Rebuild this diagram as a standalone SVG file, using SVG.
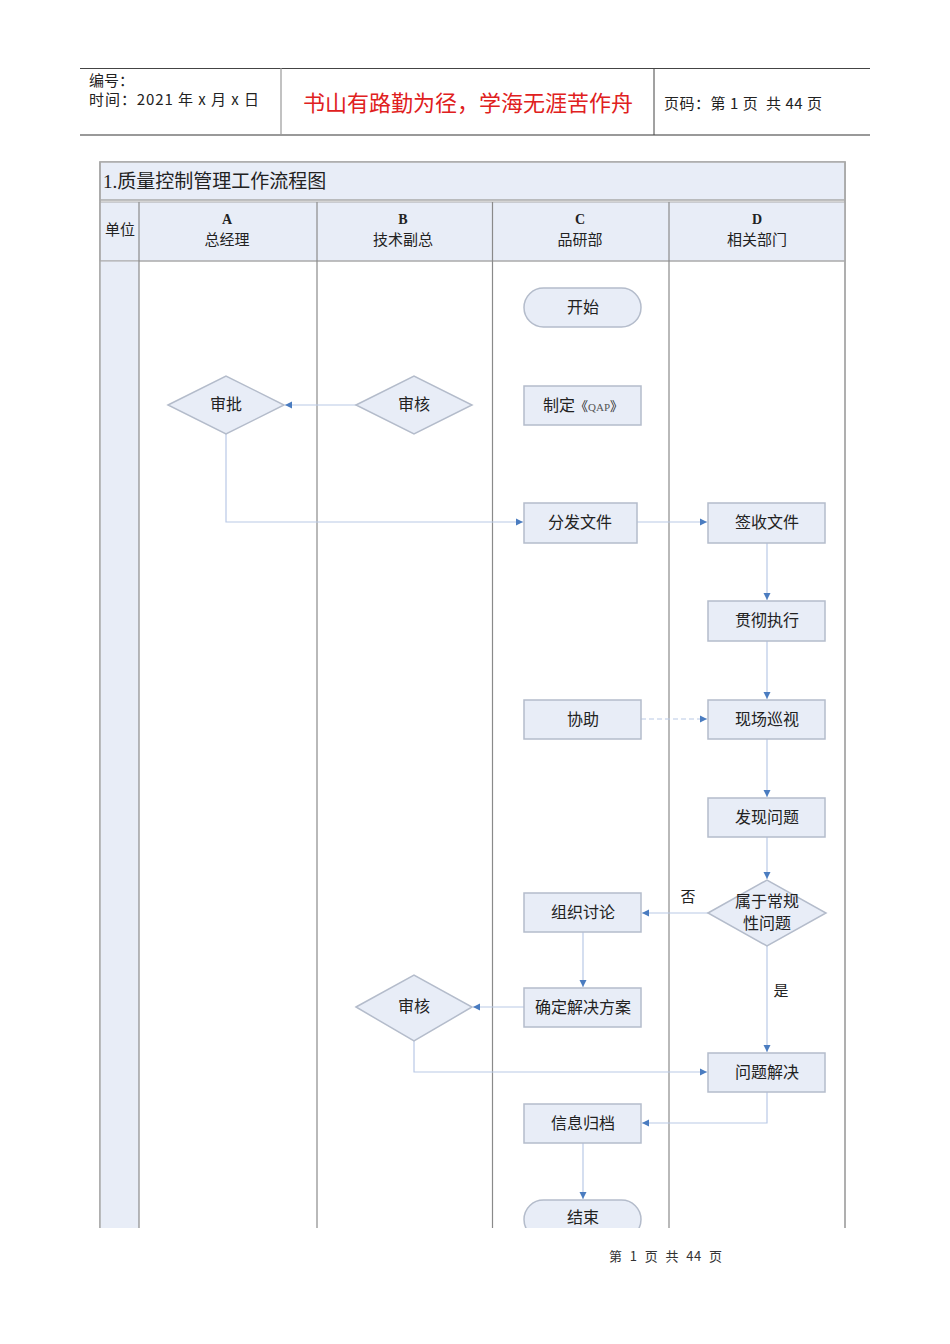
<svg xmlns="http://www.w3.org/2000/svg" width="950" height="1344" viewBox="0 0 950 1344">
<style>
text{font-family:"Noto Sans CJK SC","Liberation Sans",sans-serif;fill:#222;white-space:pre}
.n{fill:#e8edf7;stroke:#b4bccb;stroke-width:1.5}
.t{font-size:16px;text-anchor:middle}
.c{fill:none;stroke:#b9c9e6;stroke-width:1.2}
.lane{stroke:#8a8a8a;stroke-width:1.2}
.hd{font-size:15px;text-anchor:middle}
.ser{font-family:"Liberation Serif",serif;font-weight:bold;font-size:14px;text-anchor:middle}
</style>
<defs>
<marker id="ar" markerWidth="8" markerHeight="8" refX="7" refY="4" orient="auto" markerUnits="userSpaceOnUse">
<path d="M0,0.5 L7,4 L0,7.5 Z" fill="#4a7cc0"/>
</marker>
<clipPath id="tb"><rect x="95" y="155" width="760" height="1073"/></clipPath>
</defs>
<rect width="950" height="1344" fill="#fff"/>
<g id="header">
<line x1="80" y1="68.5" x2="870" y2="68.5" stroke="#444" stroke-width="1"/>
<line x1="80" y1="135" x2="870" y2="135" stroke="#999" stroke-width="2"/>
<line x1="281" y1="68" x2="281" y2="135" stroke="#999" stroke-width="1.2"/>
<line x1="654" y1="68" x2="654" y2="135" stroke="#444" stroke-width="1"/>
<text x="89" y="86" font-size="15">编号：</text>
<text x="89" y="105" font-size="15" textLength="170" lengthAdjust="spacing">时间：2021 年 x 月 x 日</text>
<text x="468" y="111" font-size="22" text-anchor="middle" style="fill:#e02020">书山有路勤为径，学海无涯苦作舟</text>
<text x="664" y="109" font-size="15" textLength="158" lengthAdjust="spacing">页码：第 1 页  共 44 页</text>
</g>
<g id="table" clip-path="url(#tb)">
<rect x="100" y="162" width="745" height="1100" fill="#fff" stroke="#aaa" stroke-width="1.5"/>
<rect x="100" y="162" width="745" height="38" fill="#e8edf7" stroke="#aaa" stroke-width="1.5"/>
<rect x="100" y="202" width="745" height="59" fill="#e8edf7" stroke="#aaa" stroke-width="1"/>
<rect x="100" y="261" width="39" height="1000" fill="#e8edf7"/>
<line x1="100" y1="261" x2="845" y2="261" stroke="#aaa" stroke-width="1"/>
<line class="lane" x1="139" y1="202" x2="139" y2="1300"/>
<line class="lane" x1="317" y1="202" x2="317" y2="1300"/>
<line class="lane" x1="492.5" y1="202" x2="492.5" y2="1300"/>
<line class="lane" x1="669" y1="202" x2="669" y2="1300"/>
<line x1="100" y1="162" x2="100" y2="1300" stroke="#aaa" stroke-width="1.5"/>
<line x1="845" y1="162" x2="845" y2="1300" stroke="#aaa" stroke-width="1.5"/>
<text x="103" y="188" font-size="19"><tspan font-family="Liberation Serif,serif">1.</tspan>质量控制管理工作流程图</text>
<text x="120" y="235" font-size="15" text-anchor="middle">单位</text>
<text x="227" y="224" class="ser">A</text><text x="227" y="245" class="hd">总经理</text>
<text x="403" y="224" class="ser">B</text><text x="403" y="245" class="hd">技术副总</text>
<text x="580" y="224" class="ser">C</text><text x="580" y="245" class="hd">品研部</text>
<text x="757" y="224" class="ser">D</text><text x="757" y="245" class="hd">相关部门</text>
<g id="connectors">
<line class="c" x1="356" y1="405" x2="285" y2="405" marker-end="url(#ar)"/>
<polyline class="c" points="226,434 226,522 523,522" marker-end="url(#ar)"/>
<line class="c" x1="637" y1="522" x2="707" y2="522" marker-end="url(#ar)"/>
<line class="c" x1="767" y1="543" x2="767" y2="600" marker-end="url(#ar)"/>
<line class="c" x1="767" y1="641" x2="767" y2="699" marker-end="url(#ar)"/>
<line class="c" x1="641" y1="719" x2="707" y2="719" stroke-dasharray="5,3" marker-end="url(#ar)"/>
<line class="c" x1="767" y1="739" x2="767" y2="797" marker-end="url(#ar)"/>
<line class="c" x1="767" y1="837" x2="767" y2="879" marker-end="url(#ar)"/>
<line class="c" x1="708" y1="913" x2="642" y2="913" marker-end="url(#ar)"/>
<line class="c" x1="767" y1="946" x2="767" y2="1052" marker-end="url(#ar)"/>
<line class="c" x1="583" y1="932" x2="583" y2="987" marker-end="url(#ar)"/>
<line class="c" x1="524" y1="1007" x2="473" y2="1007" marker-end="url(#ar)"/>
<polyline class="c" points="414,1041 414,1072 707,1072" marker-end="url(#ar)"/>
<polyline class="c" points="767,1092 767,1123 642,1123" marker-end="url(#ar)"/>
<line class="c" x1="583" y1="1143" x2="583" y2="1199" marker-end="url(#ar)"/>
<text x="688" y="902" font-size="15" text-anchor="middle">否</text>
<text x="781" y="996" font-size="15" text-anchor="middle">是</text>
</g>
<g id="start"><rect class="n" x="524" y="288" width="117" height="39" rx="19.5"/><text class="t" x="583" y="313">开始</text></g>
<g id="qap"><rect class="n" x="524" y="386" width="117" height="39"/><text class="t" x="583" y="411">制定<tspan font-size="13">《</tspan><tspan font-family="Liberation Serif,serif" font-size="11" fill="#555">QAP</tspan><tspan font-size="13">》</tspan></text></g>
<g id="approve"><polygon class="n" points="168,405 226,376 284,405 226,434"/><text class="t" x="226" y="410">审批</text></g>
<g id="review1"><polygon class="n" points="356,405 414,376 472,405 414,434"/><text class="t" x="414" y="410">审核</text></g>
<g id="distribute"><rect class="n" x="524" y="503" width="113" height="40"/><text class="t" x="580" y="528">分发文件</text></g>
<g id="receive"><rect class="n" x="708" y="503" width="117" height="40"/><text class="t" x="767" y="528">签收文件</text></g>
<g id="implement"><rect class="n" x="708" y="601" width="117" height="40"/><text class="t" x="767" y="626">贯彻执行</text></g>
<g id="assist"><rect class="n" x="524" y="700" width="117" height="39"/><text class="t" x="583" y="725">协助</text></g>
<g id="patrol"><rect class="n" x="708" y="700" width="117" height="39"/><text class="t" x="767" y="725">现场巡视</text></g>
<g id="find"><rect class="n" x="708" y="798" width="117" height="39"/><text class="t" x="767" y="823">发现问题</text></g>
<g id="routine"><polygon class="n" points="708,913 767,880 826,913 767,946"/><text class="t" x="767" y="907">属于常规</text><text class="t" x="767" y="929">性问题</text></g>
<g id="discuss"><rect class="n" x="524" y="893" width="117" height="39"/><text class="t" x="583" y="918">组织讨论</text></g>
<g id="plan"><rect class="n" x="524" y="988" width="117" height="39"/><text class="t" x="583" y="1013">确定解决方案</text></g>
<g id="review2"><polygon class="n" points="356,1007 414,975 472,1007 414,1041"/><text class="t" x="414" y="1012">审核</text></g>
<g id="solve"><rect class="n" x="708" y="1053" width="117" height="39"/><text class="t" x="767" y="1078">问题解决</text></g>
<g id="archive"><rect class="n" x="524" y="1104" width="117" height="39"/><text class="t" x="583" y="1129">信息归档</text></g>
<g id="end"><rect class="n" x="524" y="1200" width="117" height="39" rx="19.5"/><text class="t" x="583" y="1223">结束</text></g>
</g>
<g id="footer"><text x="609" y="1261" font-size="13" textLength="113" lengthAdjust="spacing" style="fill:#333">第  1  页  共  44  页</text></g>
</svg>
